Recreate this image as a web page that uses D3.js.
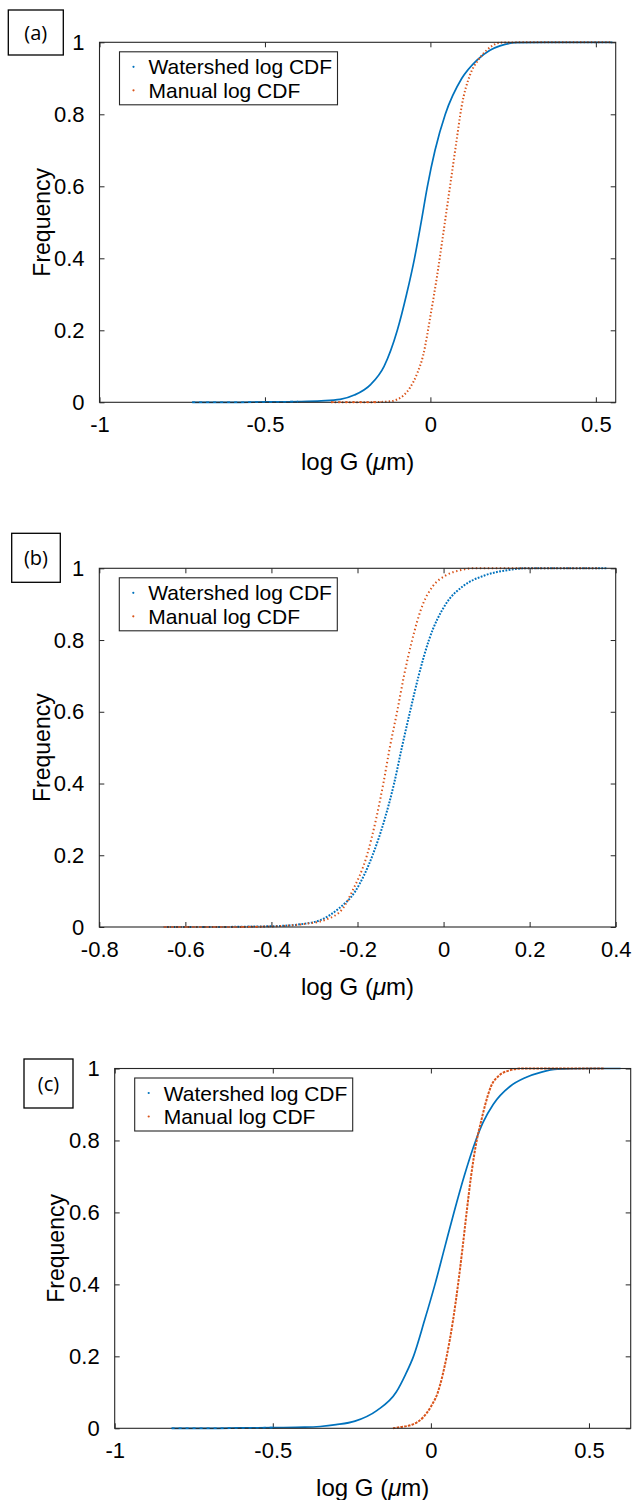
<!DOCTYPE html>
<html>
<head>
<meta charset="utf-8">
<script src="https://cdn.jsdelivr.net/npm/d3@7"></script>
<style>
  html, body { margin: 0; padding: 0; background: #fff; }
  svg { display: block; }
</style>
</head>
<body>
<svg id="chart" width="635" height="1500"></svg>
<script>
// ---------------- DATA ----------------
const seriesNames = ["Watershed log CDF", "Manual log CDF"];
const panelLabels = ["(a)", "(b)", "(c)"];
const yTicks = [0, 0.2, 0.4, 0.6, 0.8, 1];
const aXTicks = [-1, -0.5, 0, 0.5];
const bXTicks = [-0.8, -0.6, -0.4, -0.2, 0, 0.2, 0.4];
const cXTicks = [-1, -0.5, 0, 0.5];
const aXDomain = [-1, 0.56];
const bXDomain = [-0.8, 0.4];
const cXDomain = [-1, 0.632];

// Panel (a)
const aWatershedX = [-0.72, -0.6, -0.5, -0.4, -0.33, -0.273, -0.23, -0.18, -0.14, -0.1, -0.072, -0.048, -0.028, -0.009, 0.014, 0.045, 0.095, 0.14, 0.18, 0.21, 0.26, 0.35, 0.45, 0.55];
const aWatershedY = [0, 0, 0.001, 0.002, 0.004, 0.008, 0.02, 0.05, 0.1, 0.2, 0.3, 0.4, 0.5, 0.6, 0.7, 0.8, 0.9, 0.95, 0.978, 0.99, 0.999, 1, 1, 1];
const aManualX = [-0.3, -0.2, -0.15, -0.12, -0.1, -0.08, -0.062, -0.04, -0.022, 0.002, 0.02, 0.036, 0.05, 0.064, 0.078, 0.094, 0.12, 0.144, 0.17, 0.19, 0.21, 0.3, 0.4, 0.5, 0.55];
const aManualY = [0, 0, 0.001, 0.003, 0.008, 0.02, 0.04, 0.08, 0.13, 0.25, 0.35, 0.45, 0.54, 0.63, 0.72, 0.82, 0.91, 0.95, 0.978, 0.992, 0.999, 1, 1, 1, 1];

// Panel (b)
const bWatershedX = [-0.65, -0.55, -0.45, -0.38, -0.33, -0.285, -0.245, -0.205, -0.165, -0.137, -0.115, -0.097, -0.078, -0.058, -0.034, 0.005, 0.045, 0.095, 0.15, 0.19, 0.3, 0.38];
const bWatershedY = [0, 0, 0.001, 0.003, 0.008, 0.02, 0.05, 0.1, 0.2, 0.3, 0.4, 0.5, 0.6, 0.7, 0.8, 0.9, 0.95, 0.98, 0.995, 1, 1, 1];
const bManualX = [-0.65, -0.5, -0.42, -0.36, -0.32, -0.275, -0.235, -0.212, -0.178, -0.157, -0.14, -0.125, -0.108, -0.092, -0.073, -0.048, -0.025, 0.005, 0.04, 0.07, 0.2, 0.36];
const bManualY = [0, 0, 0.001, 0.004, 0.009, 0.02, 0.05, 0.1, 0.2, 0.3, 0.4, 0.5, 0.6, 0.7, 0.8, 0.9, 0.95, 0.98, 0.995, 1, 1, 1];

// Panel (c)
const cWatershedX = [-0.82, -0.7, -0.6, -0.5, -0.4, -0.35, -0.3, -0.24, -0.17, -0.11, -0.08, -0.055, -0.02, 0.013, 0.043, 0.073, 0.105, 0.142, 0.165, 0.197, 0.25, 0.3, 0.35, 0.4, 0.5, 0.6];
const cWatershedY = [0, 0, 0.001, 0.002, 0.003, 0.005, 0.01, 0.02, 0.05, 0.1, 0.15, 0.2, 0.3, 0.4, 0.5, 0.6, 0.7, 0.8, 0.85, 0.9, 0.95, 0.975, 0.99, 0.998, 1, 1];
const cManualX = [-0.12, -0.1, -0.06, -0.025, 0.0, 0.022, 0.05, 0.07, 0.086, 0.1, 0.113, 0.127, 0.145, 0.158, 0.172, 0.19, 0.215, 0.25, 0.29, 0.35, 0.45, 0.55];
const cManualY = [0, 0.003, 0.01, 0.03, 0.06, 0.1, 0.2, 0.3, 0.4, 0.5, 0.6, 0.7, 0.8, 0.85, 0.9, 0.95, 0.98, 0.995, 1, 1, 1, 1];

// ---------------- DRAWING ----------------
const svg = d3.select("#chart");
const BLUE = "#0072BD", RED = "#D95319", AXIS = "#262626";
const zip = (xs, ys) => xs.map((x, i) => ({ x, y: ys[i] }));

const panels = [
  { label: panelLabels[0], box: [8.3, 10, 55, 45],
    left: 99.5, right: 615.7, top: 42.3, bottom: 402.3,
    xDomain: aXDomain, xTicks: aXTicks, ylabX: 50,
    series: [
      { data: zip(aWatershedX, aWatershedY), color: BLUE, dash: null },
      { data: zip(aManualX, aManualY), color: RED, dash: "1.4 2.2" } ] },
  { label: panelLabels[1], box: [11.7, 533.3, 48.6, 49],
    left: 99.3, right: 615.7, top: 568.3, bottom: 927,
    xDomain: bXDomain, xTicks: bXTicks, ylabX: 50,
    series: [
      { data: zip(bWatershedX, bWatershedY), color: BLUE, dash: "1.8 1.4" },
      { data: zip(bManualX, bManualY), color: RED, dash: "1.4 2.6" } ] },
  { label: panelLabels[2], box: [24, 1059, 49, 49],
    left: 114.7, right: 630.7, top: 1068.5, bottom: 1428.3,
    xDomain: cXDomain, xTicks: cXTicks, ylabX: 64,
    series: [
      { data: zip(cWatershedX, cWatershedY), color: BLUE, dash: null },
      { data: zip(cManualX, cManualY), color: RED, dash: "2.6 1.2" } ] }
];

const fmt = d => String(d);

panels.forEach(p => {
  const x = d3.scaleLinear().domain(p.xDomain).range([p.left, p.right]);
  const y = d3.scaleLinear().domain([0, 1]).range([p.bottom, p.top]);
  const g = svg.append("g");

  // panel label box
  g.append("rect").attr("x", p.box[0]).attr("y", p.box[1])
    .attr("width", p.box[2]).attr("height", p.box[3])
    .attr("fill", "#fff").attr("stroke", "#000").attr("stroke-width", 1.3);
  g.append("text").attr("x", p.box[0] + p.box[2] / 2).attr("y", p.box[1] + p.box[3] / 2 + 7)
    .attr("text-anchor", "middle").attr("font-family", "'Open Sans', sans-serif")
    .attr("font-size", 20).attr("fill", "#000").text(p.label);

  // axes (ticks inward, on all four sides)
  const tl = -5;
  g.append("g").attr("transform", `translate(0,${p.bottom})`)
    .call(d3.axisBottom(x).tickValues(p.xTicks).tickFormat(fmt).tickSize(tl).tickPadding(14))
    .call(a => a.select(".domain").remove());
  g.append("g").attr("transform", `translate(0,${p.top})`)
    .call(d3.axisTop(x).tickValues(p.xTicks).tickFormat("").tickSize(tl))
    .call(a => a.select(".domain").remove());
  g.append("g").attr("transform", `translate(${p.left},0)`)
    .call(d3.axisLeft(y).tickValues(yTicks).tickFormat(fmt).tickSize(tl).tickPadding(15))
    .call(a => a.select(".domain").remove());
  g.append("g").attr("transform", `translate(${p.right},0)`)
    .call(d3.axisRight(y).tickValues(yTicks).tickFormat("").tickSize(tl))
    .call(a => a.select(".domain").remove());
  g.selectAll(".tick line").attr("stroke", AXIS).attr("stroke-width", 1);
  g.selectAll(".tick text").attr("font-family", "'Liberation Sans', Arial, sans-serif")
    .attr("font-size", 22).attr("fill", "#000");

  // data
  const line = d3.line().x(d => x(d.x)).y(d => y(d.y)).curve(d3.curveMonotoneX);
  const clipId = "clip" + p.label.replace(/\W/g, "");
  svg.append("clipPath").attr("id", clipId).append("rect")
    .attr("x", p.left).attr("y", p.top - 2).attr("width", p.right - p.left).attr("height", p.bottom - p.top + 4);
  p.series.forEach(s => {
    g.append("path").datum(s.data).attr("d", line)
      .attr("clip-path", `url(#${clipId})`)
      .attr("fill", "none").attr("stroke", s.color)
      .attr("stroke-width", s.dash ? 2 : 1.7)
      .attr("stroke-dasharray", s.dash);
  });

  // frame
  g.append("rect").attr("x", p.left).attr("y", p.top)
    .attr("width", p.right - p.left).attr("height", p.bottom - p.top)
    .attr("fill", "none").attr("stroke", AXIS).attr("stroke-width", 1.1);
  // redraw the flat parts on the bottom axis so the dots stay visible above the frame
  p.series.forEach(s => {
    const flat = s.data.filter(d => d.y <= 0.002);
    g.append("path").datum(flat).attr("d", line)
      .attr("fill", "none").attr("stroke", s.color).attr("stroke-width", 1.6)
      .attr("stroke-dasharray", "3 4");
  });

  // axis labels
  const xl = g.append("text").attr("x", (p.left + p.right) / 2).attr("y", p.bottom + 68)
    .attr("text-anchor", "middle").attr("font-family", "'Liberation Sans', Arial, sans-serif")
    .attr("font-size", 24).attr("fill", "#000");
  xl.append("tspan").text("log G (");
  xl.append("tspan").attr("font-style", "italic").text("\u03bc");
  xl.append("tspan").text("m)");
  g.append("text")
    .attr("transform", `translate(${p.ylabX},${(p.top + p.bottom) / 2}) rotate(-90)`)
    .attr("text-anchor", "middle").attr("font-family", "'Liberation Sans', Arial, sans-serif")
    .attr("font-size", 23).attr("fill", "#000").text("Frequency");

  // legend
  const lx = p.left + 20, ly = p.top + 9.5;
  const lg = g.append("g");
  lg.append("rect").attr("x", lx).attr("y", ly).attr("width", 218).attr("height", 53)
    .attr("fill", "#fff").attr("stroke", AXIS).attr("stroke-width", 1.1);
  seriesNames.forEach((name, i) => {
    lg.append("circle").attr("cx", lx + 14).attr("cy", ly + 15 + i * 23.5).attr("r", 1.1)
      .attr("fill", p.series[i].color);
    lg.append("text").attr("x", lx + 29).attr("y", ly + 22.5 + i * 23.5)
      .attr("font-family", "'Liberation Sans', Arial, sans-serif")
      .attr("font-size", 21).attr("fill", "#000").text(name);
  });
});
</script>
</body>
</html>
